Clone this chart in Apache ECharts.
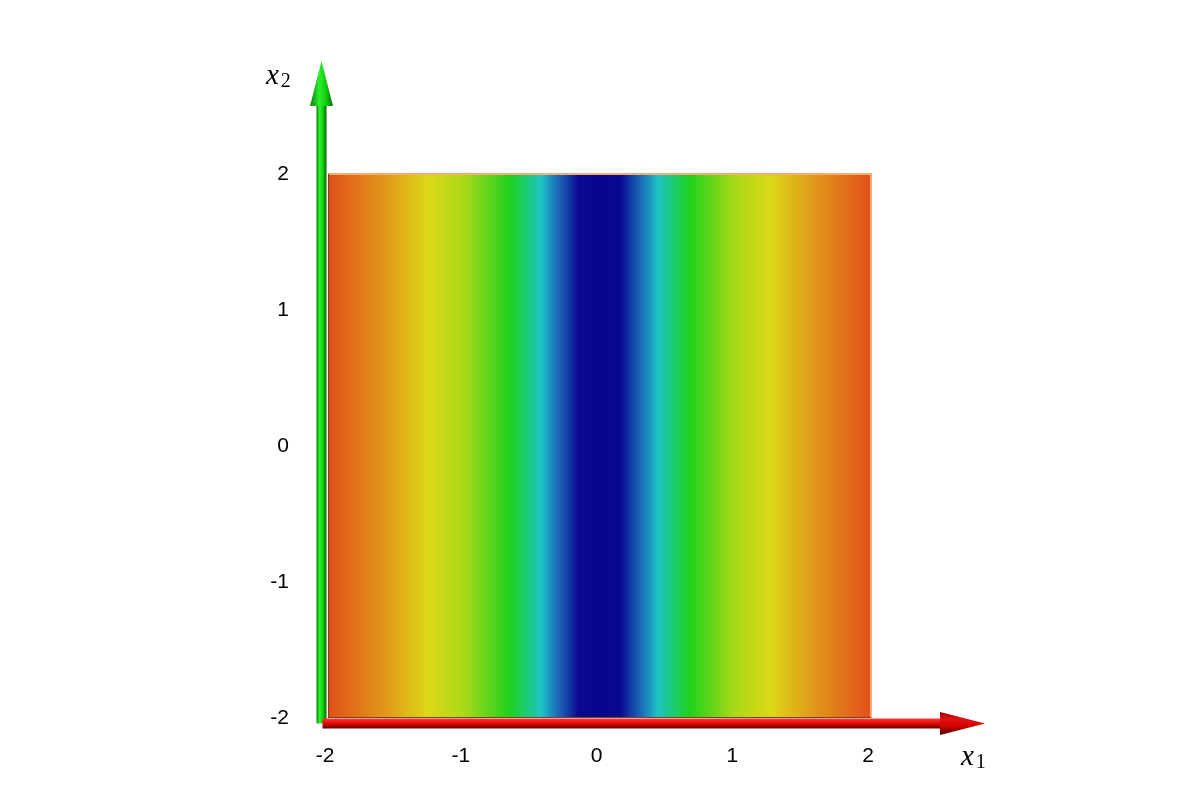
<!DOCTYPE html>
<html>
<head>
<meta charset="utf-8">
<title>x1 x2 field</title>
<script src="https://cdn.jsdelivr.net/npm/echarts@6/dist/echarts.min.js"></script>
<style>
    html, body { margin: 0; padding: 0; background: #fff; }
    #main { width: 1193px; height: 786px; }
</style>
</head>
<body>
<div id="main"></div>
<script>
// domain of the surface
const xRange = [-2, 2];
const yRange = [-2, 2];
const xTicks = [-2, -1, 0, 1, 2];
const yTicks = [-2, -1, 0, 1, 2];

// colour read across the surface (it only changes along x1)
const fieldX = [-2, -1.61, -1.26, -0.99, -0.66, -0.43, -0.36, -0.29, -0.21, -0.16, 0,
    0.16, 0.21, 0.29, 0.36, 0.43, 0.66, 0.99, 1.26, 1.61, 2];
const fieldColor = ['#e2501a', '#e0921a', '#dcd816', '#a8d818', '#1ed21e', '#1cc4c4', '#1c90c0', '#1a60b4', '#1230a0', '#0a0a90', '#06048c',
    '#0a0a90', '#1230a0', '#1a60b4', '#1c90c0', '#1cc4c4', '#1ed21e', '#a8d818', '#dcd816', '#e0921a', '#e2501a'];

// where the arrow tips end, in axis units
const xArrowTip = 2.84;
const yArrowTip = 2.83;

const chart = echarts.init(document.getElementById('main'));

const labelFont = {
    color: '#000',
    fontFamily: 'Liberation Sans, Arial, sans-serif',
    fontSize: 21
};

const option = {
    backgroundColor: '#fff',
    animation: false,
    grid: {
        left: 328,
        right: 322,
        top: 174,
        bottom: 68
    },
    xAxis: {
        type: 'value',
        min: xRange[0],
        max: xRange[1],
        interval: 1,
        axisLine: { show: false },
        axisTick: { show: false },
        splitLine: { show: false },
        axisLabel: Object.assign({ margin: 28, padding: [0, 6, 0, 0] }, labelFont)
    },
    yAxis: {
        type: 'value',
        min: yRange[0],
        max: yRange[1],
        interval: 1,
        axisLine: { show: false },
        axisTick: { show: false },
        splitLine: { show: false },
        axisLabel: Object.assign({ margin: 39, padding: [0, 0, 8, 0] }, labelFont)
    },
    series: [
        {
            type: 'custom',
            encode: { x: [0, 1], y: [2, 3] },
            data: [[xRange[0], xRange[1], yRange[0], yRange[1]]],
            renderItem: function (params, api) {
                const tl = api.coord([api.value(0), api.value(3)]);
                const br = api.coord([api.value(1), api.value(2)]);
                const span = xRange[1] - xRange[0];
                const stops = fieldX.map(function (x, i) {
                    return { offset: (x - xRange[0]) / span, color: fieldColor[i] };
                });
                return {
                    type: 'group',
                    children: [
                        {
                            type: 'rect',
                            shape: { x: tl[0], y: tl[1], width: br[0] - tl[0], height: br[1] - tl[1] },
                            style: { fill: new echarts.graphic.LinearGradient(0, 0, 1, 0, stops) }
                        },
                        {
                            // light rim on top and right
                            type: 'polyline',
                            shape: { points: [[tl[0], tl[1]], [br[0], tl[1]], [br[0], br[1]]] },
                            style: { stroke: '#f6ad72', lineWidth: 2, fill: null }
                        },
                        {
                            // dark rim on left and bottom
                            type: 'polyline',
                            shape: { points: [[tl[0] + 0.5, tl[1]], [tl[0] + 0.5, br[1] - 0.5], [br[0], br[1] - 0.5]] },
                            style: { stroke: '#8a3c12', lineWidth: 1.2, fill: null }
                        }
                    ]
                };
            }
        }
    ]
};

chart.setOption(option);

// arrows for the two axes
const origin = chart.convertToPixel({ gridIndex: 0 }, [xRange[0], yRange[0]]);
const xTip = chart.convertToPixel({ gridIndex: 0 }, [xArrowTip, yRange[0]])[0];
const yTip = chart.convertToPixel({ gridIndex: 0 }, [xRange[0], yArrowTip])[1];
const gx = origin[0] - 6.5;   // green shaft centre
const ry = origin[1] + 5.5;   // red shaft centre
const headLen = 45;
const headHalf = 11.5;
const shaftHalf = 5;

const G = echarts.graphic.LinearGradient;

chart.setOption({
    graphic: [
        {
            type: 'rect',
            z: 10,
            shape: { x: gx - shaftHalf, y: yTip + headLen, width: shaftHalf * 2, height: ry - (yTip + headLen) },
            style: {
                fill: new G(0, 0, 1, 0, [
                    { offset: 0, color: '#0a7a0a' },
                    { offset: 0.3, color: '#28f628' },
                    { offset: 0.6, color: '#14d414' },
                    { offset: 1, color: '#066606' }
                ])
            }
        },
        {
            type: 'polygon',
            z: 10,
            shape: { points: [[gx, yTip], [gx - headHalf, yTip + headLen], [gx + headHalf, yTip + headLen]] },
            style: {
                fill: new G(0, 0, 1, 0, [
                    { offset: 0, color: '#0a7a0a' },
                    { offset: 0.4, color: '#2af02a' },
                    { offset: 0.7, color: '#12c812' },
                    { offset: 1, color: '#086c08' }
                ])
            }
        },
        {
            type: 'rect',
            z: 11,
            shape: { x: gx + 1, y: ry - shaftHalf, width: xTip - headLen - (gx + 1), height: shaftHalf * 2 },
            style: {
                fill: new G(0, 0, 0, 1, [
                    { offset: 0, color: '#ff3a3a' },
                    { offset: 0.35, color: '#f01212' },
                    { offset: 0.7, color: '#b80404' },
                    { offset: 1, color: '#5a0000' }
                ])
            }
        },
        {
            type: 'polygon',
            z: 11,
            shape: { points: [[xTip, ry], [xTip - headLen, ry - headHalf], [xTip - headLen, ry + headHalf]] },
            style: {
                fill: new G(0, 0, 0, 1, [
                    { offset: 0, color: '#8a0000' },
                    { offset: 0.3, color: '#e41010' },
                    { offset: 0.6, color: '#d40404' },
                    { offset: 1, color: '#4a0000' }
                ])
            }
        },
        {
            type: 'text',
            z: 12,
            x: 961,
            y: 742,
            style: {
                text: '{v|x}{s|1}',
                rich: {
                    v: { fontFamily: 'Liberation Serif, serif', fontStyle: 'italic', fontSize: 29, fill: '#000' },
                    s: { fontFamily: 'Liberation Serif, serif', fontSize: 20, fill: '#000', padding: [11, 0, 0, 2] }
                }
            }
        },
        {
            type: 'text',
            z: 12,
            x: 266,
            y: 61,
            style: {
                text: '{v|x}{s|2}',
                rich: {
                    v: { fontFamily: 'Liberation Serif, serif', fontStyle: 'italic', fontSize: 29, fill: '#000' },
                    s: { fontFamily: 'Liberation Serif, serif', fontSize: 20, fill: '#000', padding: [11, 0, 0, 2] }
                }
            }
        }
    ]
});
</script>
</body>
</html>
